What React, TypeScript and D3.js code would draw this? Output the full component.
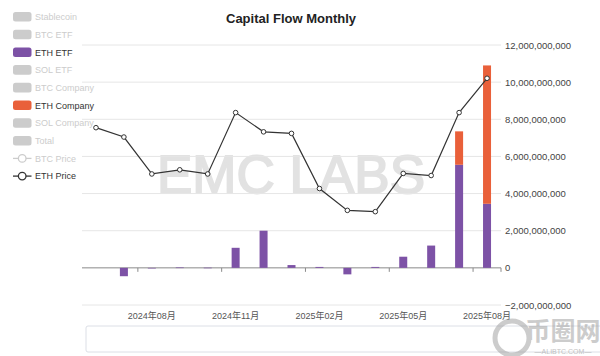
import React from "react";
import * as d3 from "d3";

const months = [
  "2024年06月", "2024年07月", "2024年08月", "2024年09月", "2024年10月",
  "2024年11月", "2024年12月", "2025年01月", "2025年02月", "2025年03月",
  "2025年04月", "2025年05月", "2025年06月", "2025年07月", "2025年08月",
];
const ethEtf = [0, -0.45e9, -0.03e9, 0.02e9, 0.01e9, 1.08e9, 2.0e9, 0.15e9, 0.05e9, -0.35e9, 0.05e9, 0.6e9, 1.2e9, 5.55e9, 3.45e9];
const ethCompany = [0, 0, 0, 0, 0, 0, 0, 0, 0, 0, 0, 0, 0, 1.8e9, 7.45e9];
const ethPrice = [3410, 3230, 2520, 2600, 2520, 3700, 3330, 3300, 2240, 1820, 1795, 2530, 2490, 3700, 4360];
const yTicks = [-2e9, 0, 2e9, 4e9, 6e9, 8e9, 10e9, 12e9];
const labelIdx = [2, 5, 8, 11, 14];
const legendItems = [
  { name: "Stablecoin", type: "bar", active: false, color: "#ccc" },
  { name: "BTC ETF", type: "bar", active: false, color: "#ccc" },
  { name: "ETH ETF", type: "bar", active: true, color: "#7d52a6" },
  { name: "SOL ETF", type: "bar", active: false, color: "#ccc" },
  { name: "BTC Company", type: "bar", active: false, color: "#ccc" },
  { name: "ETH Company", type: "bar", active: true, color: "#e9603a" },
  { name: "SOL Company", type: "bar", active: false, color: "#ccc" },
  { name: "Total", type: "bar", active: false, color: "#ccc" },
  { name: "BTC Price", type: "line", active: false, color: "#ccc" },
  { name: "ETH Price", type: "line", active: true, color: "#333" },
];

const W = 600, H = 356;
const left = 82, right = 501, top = 45, bottom = 305;
const FONT = "'Liberation Sans', Arial, 'Noto Sans CJK SC', sans-serif";

export default function App() {
  const x = d3.scaleBand<string>().domain(months).range([left, right]);
  const y = d3.scaleLinear().domain([-2e9, 12e9]).range([bottom, top]);
  const yp = d3.scaleLinear().domain([0, 5000]).range([bottom, top]);
  const bw = x.bandwidth();
  const cx = (i: number) => (x(months[i]) as number) + bw / 2;
  const fmt = d3.format(",");
  const line = d3.line<number>().x((_, i) => cx(i)).y((d) => yp(d));
  const y0 = y(0);

  return (
    <svg width={W} height={H} style={{ position: "absolute", left: 0, top: 0, background: "#fff" }} fontFamily={FONT}>
      {/* watermark */}
      <text x={291} y={193} textAnchor="middle" fontSize={53} fill="#e2e2e2" stroke="#e2e2e2" strokeWidth={1.8} fontFamily={FONT}>EMC LABS</text>
      {/* grid */}
      {yTicks.map((t) => (
        <line key={t} x1={left} x2={right} y1={y(t)} y2={y(t)} stroke={t === 0 ? "#8a8a8a" : "#e6e6e6"} strokeWidth={1} />
      ))}
      {/* x ticks */}
      {labelIdx.map((i) => (
        <line key={"t" + i} x1={x(months[i]) as number} x2={x(months[i]) as number} y1={y0} y2={y0 + 4} stroke="#8a8a8a" />
      ))}
      <line x1={right} x2={right} y1={y0} y2={y0 + 4} stroke="#8a8a8a" />
      {/* y labels */}
      {yTicks.map((t) => (
        <text key={"l" + t} x={505} y={y(t) + 3.5} fontSize={9.5} fill="#444">{fmt(t)}</text>
      ))}
      {/* x labels */}
      {labelIdx.map((i) => (
        <text key={"x" + i} x={cx(i)} y={319} textAnchor="middle" fontSize={9} fill="#555">{months[i]}</text>
      ))}
      {/* bars */}
      {months.map((m, i) => {
        const v = ethEtf[i];
        const c = ethCompany[i];
        const bx = cx(i) - 4;
        return (
          <g key={"b" + m}>
            {v !== 0 && (
              <rect x={bx} y={Math.min(y(v), y0)} width={8} height={Math.max(Math.abs(y(v) - y0), 0.6)} fill="#7d52a6" />
            )}
            {c !== 0 && (
              <rect x={bx} y={y(v + c)} width={8} height={y(v) - y(v + c)} fill="#e9603a" />
            )}
          </g>
        );
      })}
      {/* price line */}
      <path d={line(ethPrice) || ""} fill="none" stroke="#333" strokeWidth={1.2} />
      {ethPrice.map((p, i) => (
        <circle key={"c" + i} cx={cx(i)} cy={yp(p)} r={2.3} fill="#fff" stroke="#333" strokeWidth={1} />
      ))}
      {/* title */}
      <text x={291} y={23} textAnchor="middle" fontSize={13} fontWeight={600} fill="#222">Capital Flow Monthly</text>
      {/* legend */}
      {legendItems.map((it, k) => {
        const ly = 16.8 + k * 17.7;
        return (
          <g key={it.name}>
            {it.type === "bar" ? (
              <rect x={13} y={ly - 4.8} width={18.5} height={9.6} rx={2.5} fill={it.color} />
            ) : (
              <g>
                <line x1={13} x2={31.5} y1={ly} y2={ly} stroke={it.color} strokeWidth={1.3} />
                <circle cx={22.2} cy={ly} r={3.8} fill="#fff" stroke={it.color} strokeWidth={1.3} />
              </g>
            )}
            <text x={35} y={ly + 3.3} fontSize={9} fill={it.active ? "#333" : "#ccc"}>{it.name}</text>
          </g>
        );
      })}
      {/* data zoom slider */}
      <rect x={86} y={326} width={530} height={26} fill="none" stroke="#dcdfe6" strokeWidth={1} rx={2} />
      {/* alibtc watermark */}
      <g opacity={0.5}>
        <circle cx={512} cy={338} r={17} fill="none" stroke="#9a9a9a" strokeWidth={5} />
        <text x={563} y={340} textAnchor="middle" fontSize={25} fontWeight={700} fill="#9a9a9a" fontFamily="'Noto Sans CJK SC', sans-serif">币圈网</text>
        <text x={563} y={354} textAnchor="middle" fontSize={7} fill="#888">—ALIBTC.COM—</text>
      </g>
    </svg>
  );
}
